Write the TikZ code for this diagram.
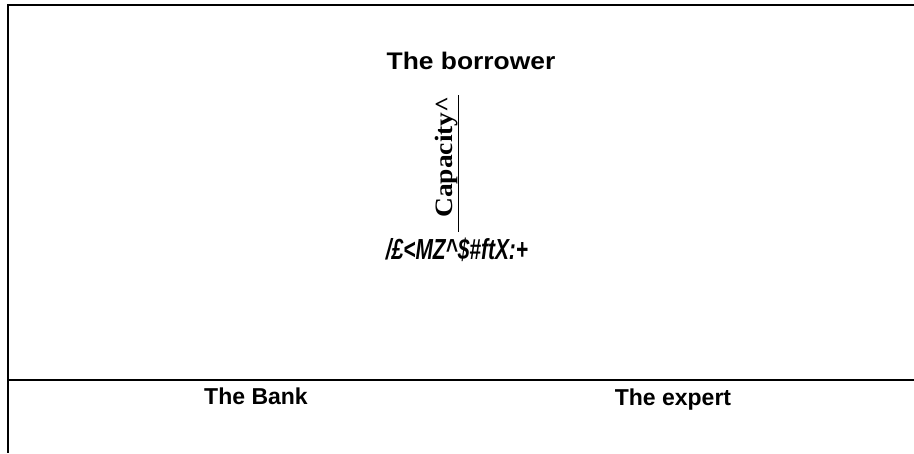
\documentclass[tikz,border=0pt]{standalone}
\usepackage{fontspec}
\setmainfont{Liberation Sans}
\newfontfamily\serifbf{Liberation Serif}
\begin{document}
\begin{tikzpicture}[x=1pt,y=-1pt,
  rule/.style={line width=1.4pt,black},
  lab/.style={font=\bfseries\fontsize{23}{23}\selectfont,inner sep=0pt,anchor=base}]
\useasboundingbox (0,0) rectangle (914,453);
\draw[rule] (914,5) -- (8,5) -- (8,453);
\draw[rule] (8,380) -- (914,380);
\coordinate (vt) at (458,95);
\coordinate (vb) at (458,232);
\draw[line width=1pt] (vt) -- (vb);
\node[inner sep=0pt,font=\bfseries\fontsize{24}{24}\selectfont] (borrower) at (471,61) {\scalebox{1.1}[1]{The borrower}};
\node[inner sep=0pt,rotate=90,font=\serifbf\bfseries\fontsize{25}{25}\selectfont] (cap) at (447,157) {\scalebox{1.1}[1]{Capacity\textasciicircum}};
\node[inner sep=0pt,font=\bfseries\itshape\fontsize{29}{29}\selectfont] (code) at (457,250) {\scalebox{0.72}[1]{/£<MZ\textasciicircum\$\#ftX:+}};
\node[lab] (bank) at (256,404) {The Bank};
\node[lab] (expert) at (673,405) {The expert};
\end{tikzpicture}
\end{document}
